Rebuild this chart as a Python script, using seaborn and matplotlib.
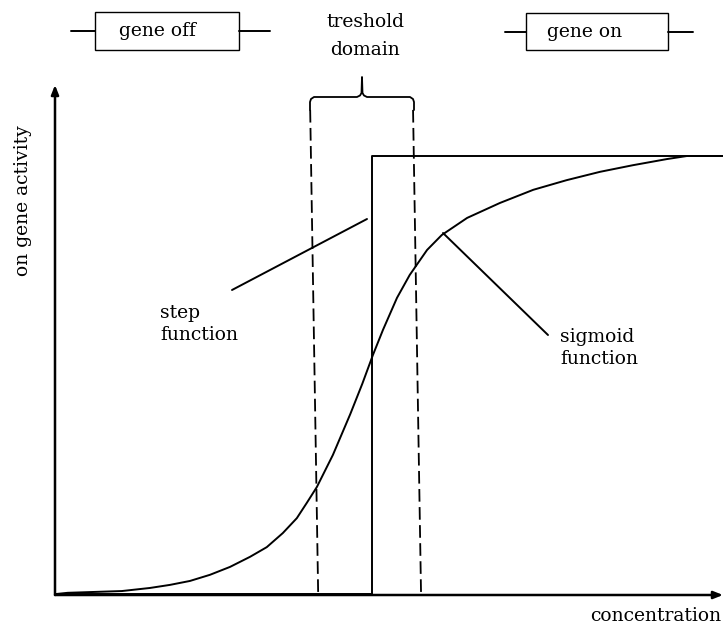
import matplotlib
matplotlib.use('Agg')
import matplotlib.pyplot as plt
import seaborn as sns
import pandas as pd
from matplotlib.patches import Rectangle

# Values (concentration in arbitrary units, activity 0..1)
concentration = [0, 0.19, 1.0, 1.42, 1.72, 2.02, 2.32, 2.62, 2.92, 3.17, 3.41, 3.62,
                 3.77, 3.92, 4.16, 4.42, 4.6, 4.76, 4.91, 5.12, 5.31, 5.57, 5.79,
                 6.17, 6.66, 7.16, 7.66, 8.16, 8.65, 9.16, 9.46, 10]
sigmoid_activity = [0.002, 0.005, 0.009, 0.016, 0.023, 0.032, 0.046, 0.064, 0.087,
                    0.109, 0.141, 0.175, 0.21, 0.246, 0.319, 0.412, 0.481, 0.547,
                    0.604, 0.677, 0.729, 0.786, 0.82, 0.859, 0.893, 0.923, 0.945,
                    0.964, 0.979, 0.993, 1.0, 1.0]

step_x = [0, 4.75, 4.75, 10]
step_y = [0.003, 0.003, 1.0, 1.0]

# threshold domain borders (top, bottom) -- slightly slanted in the drawing
threshold_low = [3.82, 3.94]
threshold_high = [5.36, 5.48]
threshold_y = [1.105, 0.0]

sig = pd.DataFrame({'concentration': concentration, 'activity': sigmoid_activity})
step = pd.DataFrame({'concentration': step_x, 'activity': step_y})

sns.set_style('white')
plt.rcParams['font.family'] = ['DejaVu Serif', 'Liberation Serif']
plt.rcParams['text.color'] = 'black'
FS = 13.5

fig = plt.figure(figsize=(7.23, 6.28), dpi=100)
ax = fig.add_axes([55 / 723, 33 / 628, 668 / 723, 510 / 628])
ax.set_xlim(0, 10)
ax.set_ylim(0, 510 / 439)
ax.axis('off')


# helpers to place the decorations using picture pixels
def dx(px):
    return (px - 55) / 66.8


def dy(py):
    return (595 - py) / 439


sns.lineplot(data=sig, x='concentration', y='activity', ax=ax, color='black',
             lw=1.4, sort=False, estimator=None)
sns.lineplot(data=step, x='concentration', y='activity', ax=ax, color='black',
             lw=1.4, sort=False, estimator=None)
for xs in (threshold_low, threshold_high):
    ax.plot(xs, threshold_y, color='black', lw=1.3, dashes=(7, 3), clip_on=False)

# axes with arrow heads
arrow = dict(arrowstyle='-|>,head_length=0.55,head_width=0.22', lw=1.8,
             color='black', shrinkA=0, shrinkB=0)
ax.annotate('', xy=(10, 0), xytext=(0, 0), arrowprops=arrow, annotation_clip=False)
ax.annotate('', xy=(0, 510 / 439), xytext=(0, 0), arrowprops=arrow,
            annotation_clip=False)

# brace over the threshold domain
bx = [310, 310, 311, 314, 357, 360, 361.5, 362, 362.5, 364, 367, 410, 413, 414, 414]
by = [110, 102, 99, 97, 97, 95.5, 93, 77, 93, 95.5, 97, 97, 99, 102, 110]
ax.plot([dx(v) for v in bx], [dy(v) for v in by], color='black', lw=1.3,
        clip_on=False)

# pointer lines
ax.plot([dx(232), dx(367)], [dy(290), dy(219)], color='black', lw=1.4)
ax.plot([dx(443), dx(548)], [dy(233), dy(335)], color='black', lw=1.4)

# gene off / gene on boxes
for x0, x1, y0, y1, l0, l1 in ((95, 239, 12, 50, 71, 270), (526, 668, 13, 50, 505, 693)):
    ax.add_patch(Rectangle((dx(x0), dy(y1)), dx(x1) - dx(x0), dy(y0) - dy(y1),
                           fill=False, ec='black', lw=1.0, clip_on=False))
    ym = dy((y0 + y1) / 2)
    ax.plot([dx(l0), dx(x0)], [ym, ym], color='black', lw=1.4, clip_on=False)
    ax.plot([dx(x1), dx(l1)], [ym, ym], color='black', lw=1.4, clip_on=False)

ax.text(dx(157), dy(31), 'gene off', ha='center', va='center', fontsize=FS)
ax.text(dx(585), dy(32), 'gene on', ha='center', va='center', fontsize=FS)
ax.text(dx(365), dy(22), 'treshold', ha='center', va='center', fontsize=FS)
ax.text(dx(365), dy(50), 'domain', ha='center', va='center', fontsize=FS)
ax.text(dx(160), dy(324), 'step\nfunction', ha='left', va='center', fontsize=FS,
        linespacing=1.25)
ax.text(dx(560), dy(348), 'sigmoid\nfunction', ha='left', va='center', fontsize=FS,
        linespacing=1.3)
ax.text(dx(23), dy(201), 'on gene activity', ha='center', va='center',
        rotation=90, fontsize=FS)
ax.text(dx(721), dy(616), 'concentration', ha='right', va='center', fontsize=FS)

fig.savefig('out.png', dpi=100)
